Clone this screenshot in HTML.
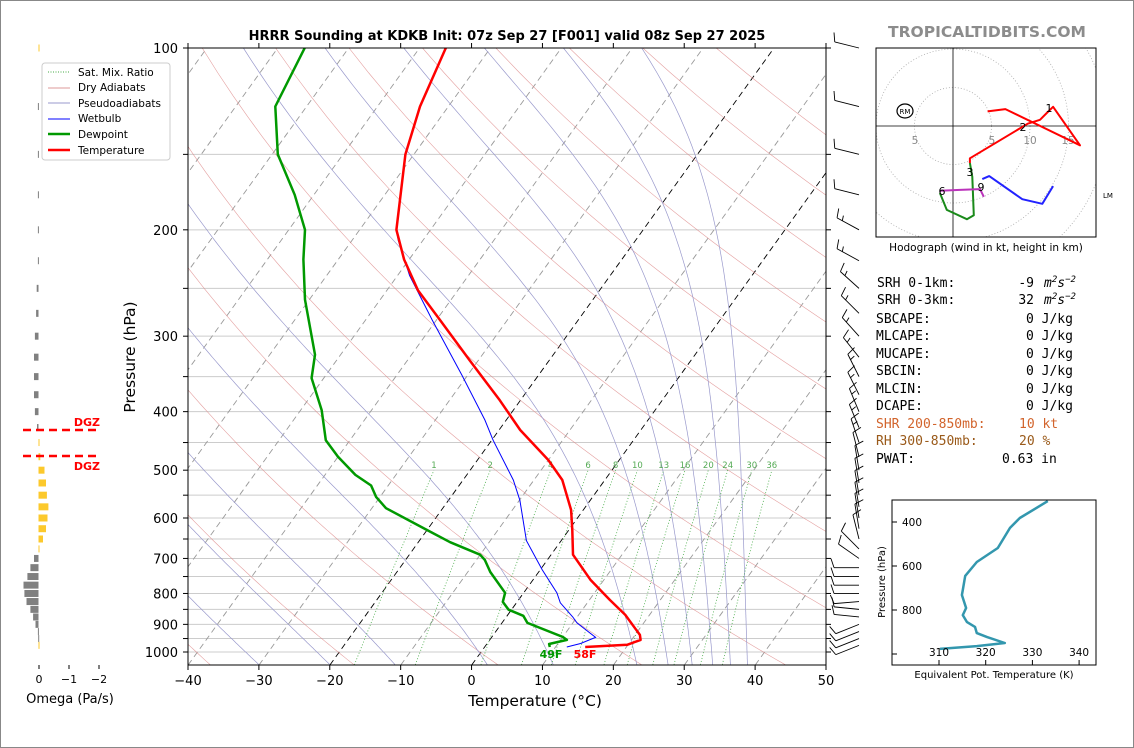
<!DOCTYPE html>
<html><head><meta charset="utf-8">
<style>
html,body{margin:0;padding:0;background:#fff;}
svg{display:block;font-family:"DejaVu Sans","Liberation Sans",sans-serif;}
.mono{font-family:"DejaVu Sans Mono","Liberation Mono",monospace;font-size:13px;}
</style></head>
<body>
<svg id="svg" width="1134" height="748" viewBox="0 0 1134 748" xmlns="http://www.w3.org/2000/svg">
<rect x="0.5" y="0.5" width="1133" height="747" fill="#fff" stroke="#888"/>
<defs>
<clipPath id="mainclip"><rect x="188" y="48" width="638" height="617"/></clipPath>
<clipPath id="hodoclip"><rect x="876" y="48" width="220" height="189"/></clipPath>
<clipPath id="teclip"><rect x="892" y="500" width="204" height="165"/></clipPath>
</defs>
<text x="507" y="40" text-anchor="middle" font-size="13" font-weight="bold">HRRR Sounding at KDKB Init: 07z Sep 27 [F001] valid 08z Sep 27 2025</text>
<text x="987" y="37" text-anchor="middle" font-size="15.5" font-weight="bold" fill="#8c8c8c">TROPICALTIDBITS.COM</text>
<g id="main-bg" clip-path="url(#mainclip)"></g>
<g id="main-data" clip-path="url(#mainclip)"></g>
<g id="main-axes"></g>
<g id="barbs"></g>
<g id="omega"></g>
<g id="hodo"></g>
<g id="te"></g>
<g>
<rect x="42" y="63" width="128" height="97" rx="3" fill="#fff" stroke="#ccc"/>
<line x1="48" y1="72" x2="70" y2="72" stroke="#4a4" stroke-dasharray="1,1.5"/>
<text x="78" y="76" font-size="10.5">Sat. Mix. Ratio</text>
<line x1="48" y1="88" x2="70" y2="88" stroke="#d99"/>
<text x="78" y="91" font-size="10.5">Dry Adiabats</text>
<line x1="48" y1="103" x2="70" y2="103" stroke="#99c"/>
<text x="78" y="107" font-size="10.5">Pseudoadiabats</text>
<line x1="48" y1="119" x2="70" y2="119" stroke="#00f"/>
<text x="78" y="122" font-size="10.5">Wetbulb</text>
<line x1="48" y1="134" x2="70" y2="134" stroke="#090" stroke-width="2.5"/>
<text x="78" y="138" font-size="10.5">Dewpoint</text>
<line x1="48" y1="150" x2="70" y2="150" stroke="#f00" stroke-width="2.5"/>
<text x="78" y="154" font-size="10.5">Temperature</text>
</g>
<g class="mono">
<text x="877" y="287">SRH 0-1km:</text><text x="1034" y="287" text-anchor="end">-9</text><text x="1044" y="287" font-style="italic">m<tspan dy="-5" font-size="9">2</tspan><tspan dy="5">s</tspan><tspan dy="-5" font-size="9">−2</tspan></text>
<text x="877" y="304">SRH 0-3km:</text><text x="1034" y="304" text-anchor="end">32</text><text x="1044" y="304" font-style="italic">m<tspan dy="-5" font-size="9">2</tspan><tspan dy="5">s</tspan><tspan dy="-5" font-size="9">−2</tspan></text>
<text x="876" y="323">SBCAPE:</text><text x="1026" y="323">0 J/kg</text>
<text x="876" y="340">MLCAPE:</text><text x="1026" y="340">0 J/kg</text>
<text x="876" y="358">MUCAPE:</text><text x="1026" y="358">0 J/kg</text>
<text x="876" y="375">SBCIN:</text><text x="1026" y="375">0 J/kg</text>
<text x="876" y="393">MLCIN:</text><text x="1026" y="393">0 J/kg</text>
<text x="876" y="410">DCAPE:</text><text x="1026" y="410">0 J/kg</text>
<text x="876" y="428" fill="#d2642c">SHR 200-850mb:</text><text x="1019" y="428" fill="#d2642c">10 kt</text>
<text x="876" y="445" fill="#9a5a1a">RH 300-850mb:</text><text x="1019" y="445" fill="#9a5a1a">20 %</text>
<text x="876" y="463">PWAT:</text><text x="1002" y="463">0.63 in</text>
</g>
</svg>
<script>
// ---------- data ----------
const tempP = [100,125,150,200,224,252,282,329,383,429,481,519,582,628,690,759,820,868,937,955,973,981];
const tempT = [-66.3,-64.0,-61.2,-54.8,-50.7,-45.6,-39.5,-31.2,-22.9,-17,-10,-6,-1.7,0.5,3.1,8.1,12.9,16.6,20.7,21.3,19.9,14.2];
const dewP = [100,125,150,175,200,224,261,322,352,398,446,475,509,530,554,578,628,658,690,704,737,798,826,851,871,895,944,955,970,981];
const dewT = [-86.2,-84.4,-79.2,-72.7,-67.7,-64.9,-60.6,-53.6,-51.7,-47,-43.4,-40,-35.7,-32.4,-30.5,-28,-20,-15.5,-10,-8.8,-6.8,-2.6,-2,-0.4,2.3,3.6,10,10.9,8.8,9.2];
const wbP = [100,125,150,200,208,238,282,348,413,446,519,561,654,731,798,829,875,895,946,968,981];
const wbT = [-66.3,-64.0,-61.2,-54.8,-53.5,-48.3,-40.6,-30.8,-23,-19.8,-12.9,-9.9,-4.9,0.3,4.7,6.2,9.4,10.6,14.7,13.2,11.6];
const mixRatios = [1,2,4,6,8,10,13,16,20,24,30,36];
const omegaP = [100,125,150,175,200,225,250,275,300,325,350,375,400,425,450,475,500,525,550,575,600,625,650,675,700,725,750,775,800,825,850,875,900,925,950,975];
const omegaV = [-0.01,0.02,0.02,0.02,0.02,0.02,0.06,0.08,0.12,0.15,0.15,0.15,0.12,0.05,-0.02,-0.06,-0.2,-0.25,-0.28,-0.33,-0.3,-0.25,-0.15,-0.03,0.15,0.27,0.37,0.5,0.47,0.4,0.27,0.18,0.1,0.02,0.01,-0.01];
const barbP = [100,125,150,175,200,225,250,275,300,325,350,375,400,425,450,475,500,525,550,575,600,625,650,675,700,725,750,775,800,825,850,875,900,925,950,975];
const barbU = [12,12,12,12,11,11,10,10,9,8,6,6,5,5,4,3,2,2,2,2,2,2,3,8,10,12,12,12,12,12,10,10,10,10,10,10];
const barbV = [-3,-3,-3,-3,-6,-6,-9,-10,-10,-10,-12,-12,-12,-12,-12,-12,-12,-12,-12,-12,-12,-12,-12,-8,-7,0,0,0,0,1,-1,-1,4,4,4,4];
const hodoRedU = [4.5,6.8,16.5,13,12.2,11.3,9.7,2.2,2.2];
const hodoRedV = [1.9,2.2,-2.5,2.5,1.7,0.8,0.3,-4.2,-4.8];
const hodoGreenU = [2.2,2.5,2.7,1.8,-0.8,-1.7];
const hodoGreenV = [-4.8,-6.6,-11.6,-12.1,-10.9,-8.7];
const hodoMagU = [-1.7,0.9,3.5,4.0];
const hodoMagV = [-8.4,-8.3,-8.2,-9.2];
const hodoBlueU = [3.8,4.7,9,11.6,13];
const hodoBlueV = [-6.9,-6.5,-9.5,-10.1,-7.8];
const thetaE = [333.3,327.3,325.2,322.6,318.1,315.6,315.1,314.9,315.8,315.1,316,317.7,318.1,320.3,324.1,318.1,310.2];
const thetaEP = [305,382,427,518,582,645,709,732,791,823,855,877,905,923,950,964,977];
const xTicks = [-40,-30,-20,-10,0,10,20,30,40,50];
const pTicks = [100,200,300,400,500,600,700,800,900,1000];
const moistStarts = [-30,-20,-10.8,2.2,11.5,23.3,27.7,31.1,34,36.5,38.9];

// ---------- helpers ----------
const NS='http://www.w3.org/2000/svg';
function mk(tag,parent,attrs){const e=document.createElementNS(NS,tag);for(const k in attrs)e.setAttribute(k,attrs[k]);parent.appendChild(e);return e;}
const yP = p => 48 + 604*Math.log10(p/100);
const xTP = (T,p) => 188 + (T+40)*7.0889 + 0.72*(665 - yP(p));
function pathFrom(Ts,Ps){return Ts.map((t,i)=>(i?'L':'M')+xTP(t,Ps[i]).toFixed(1)+','+yP(Ps[i]).toFixed(1)).join('');}

const bg=document.getElementById('main-bg');
for(let p=150;p<=1000;p+=50){
  const l=mk('line',bg,{x1:188,x2:826,y1:yP(p),y2:yP(p),stroke:'#ccc','stroke-width':1});
  
  
}
for(let T=-130;T<=50;T+=10){
  const l=mk('line',bg,{x1:xTP(T,1050),y1:665,x2:xTP(T,100),y2:48,stroke:(T===0||T===-20)?'#000':'#999','stroke-width':0.9,'stroke-dasharray':'6,4'});
  
  
}
for(let th=193;th<=473;th+=20){
  let d='';
  for(let p=1050;p>=100;p-=10){const T=th*Math.pow(p/1000,0.2857)-273.15;d+=(d?'L':'M')+xTP(T,p).toFixed(1)+','+yP(p).toFixed(1);}
  const l=mk('path',bg,{d:d,fill:'none',stroke:'#d88',"stroke-width":0.6,opacity:0.8});
  
  
}
function es(T){return 6.112*Math.exp(17.67*T/(T+243.5));}
for(const T0 of moistStarts){
  let T=T0+273.15,p=1050,d='M'+xTP(T0,1050).toFixed(1)+','+yP(1050).toFixed(1);
  while(p>100){
    const dp=-5;
    const e=es(T-273.15),rs=0.622*e/(p-e);
    const num=287*T+2.5e6*rs, den=1004+2.5e6*2.5e6*rs*0.622/(287*T*T);
    T+= num/den/p*dp; p+=dp;
    d+='L'+xTP(T-273.15,p).toFixed(1)+','+yP(p).toFixed(1);
  }
  const l=mk('path',bg,{d:d,fill:'none',stroke:'#99c',"stroke-width":0.7});
  
  
}
for(const w of mixRatios){
  let d='';
  for(let p=1050;p>=500;p-=10){const e=w*p/(622+w);const L=Math.log(e/6.112);const T=243.5*L/(17.67-L);d+=(d?'L':'M')+xTP(T,p).toFixed(1)+','+yP(p).toFixed(1);}
  const l=mk('path',bg,{d:d,fill:'none',stroke:'#4a4',"stroke-width":0.8,'stroke-dasharray':'1,2'});
  
  
  const e=w*500/(622+w),L=Math.log(e/6.112),T=243.5*L/(17.67-L);
  const t=mk('text',bg,{x:xTP(T,500),y:468,'font-size':8.5,fill:'#5a5','text-anchor':'middle'});
  t.textContent=w;
  
  
}
const md=document.getElementById('main-data');
let pe=mk('path',md,{d:pathFrom(wbT,wbP),fill:'none',stroke:'#00f','stroke-width':1});


pe=mk('path',md,{d:pathFrom(dewT,dewP),fill:'none',stroke:'#090','stroke-width':2.5,'stroke-linejoin':'round'});


pe=mk('path',md,{d:pathFrom(tempT,tempP),fill:'none',stroke:'#f00','stroke-width':2.5,'stroke-linejoin':'round'});


let tx=mk('text',md,{x:551,y:658,'font-size':11,'font-weight':'bold',fill:'#090','text-anchor':'middle'});
tx.textContent='49F';


tx=mk('text',md,{x:585,y:658,'font-size':11,'font-weight':'bold',fill:'#f00','text-anchor':'middle'});
tx.textContent='58F';



const ax=document.getElementById('main-axes');
let r=mk('rect',ax,{x:188,y:48,width:638,height:617,fill:'none',stroke:'#000','stroke-width':1});


for(const T of xTicks){
  const x=188+(T+40)*7.0889;
  mk('line',ax,{x1:x,x2:x,y1:665,y2:670,stroke:'#000'});
  mk('line',ax,{x1:x,x2:x,y1:48,y2:43,stroke:'#000'});
  const t=mk('text',ax,{x:x,y:685,'font-size':13,'text-anchor':'middle'});
  t.textContent=(T<0?'−'+(-T):T);
  
  
}
for(let p=100;p<=1000;p+=50){
  mk('line',ax,{x1:183,x2:188,y1:yP(p),y2:yP(p),stroke:'#000'});
  mk('line',ax,{x1:826,x2:831,y1:yP(p),y2:yP(p),stroke:'#000'});
}
for(const p of pTicks){
  const t=mk('text',ax,{x:178,y:yP(p)+5,'font-size':13,'text-anchor':'end'});
  t.textContent=p;
  
  
}
tx=mk('text',ax,{x:535,y:706,'font-size':15.5,'text-anchor':'middle'});
tx.textContent='Temperature (°C)';


tx=mk('text',ax,{x:0,y:0,'font-size':15.5,'text-anchor':'middle',transform:'translate(135,357) rotate(-90)'});
tx.textContent='Pressure (hPa)';



// wind barbs
const bb=document.getElementById('barbs');
barbP.forEach((p,i)=>{
  const u=barbU[i],v=barbV[i],s=Math.hypot(u,v)||1;
  const bx=859,by=yP(p),L=25;
  const dx=-u/s,dy=v/s;
  const ex=bx+dx*L,ey=by+dy*L;
  const g=mk('g',bb,{});
  
  
  mk('line',g,{x1:bx,y1:by,x2:ex,y2:ey,stroke:'#000','stroke-width':0.9});
  let spd=Math.round(s/5)*5, k=0;
  const px=-dy,py=dx;
  while(spd>=10){const sx=ex-dx*k*4,sy=ey-dy*k*4;mk('line',g,{x1:sx,y1:sy,x2:sx+px*9+dx*3,y2:sy+py*9+dy*3,stroke:'#000','stroke-width':0.9});spd-=10;k++;}
  if(spd>=5){const sx=ex-dx*(k+0.5)*4,sy=ey-dy*(k+0.5)*4;mk('line',g,{x1:sx,y1:sy,x2:sx+px*5+dx*1.5,y2:sy+py*5+dy*1.5,stroke:'#000','stroke-width':0.9});}
});

// omega
const om=document.getElementById('omega');
omegaP.forEach((p,i)=>{
  const v=omegaV[i];const x0=38.5,w=Math.abs(v)*30;
  const rr=mk('rect',om,{x:v>0?x0-w:x0,y:yP(p)-3.5,width:Math.max(w,1),height:7,fill:v>0?'#808080':'#fcc92c'});
  
  
});
[['0',39],['−1',69],['−2',99]].forEach(([l,x])=>{
  mk('line',om,{x1:x,x2:x,y1:665,y2:669,stroke:'#000'});
  const t=mk('text',om,{x:x,y:683,'font-size':11,'text-anchor':'middle'});t.textContent=l;
  
  
});
tx=mk('text',om,{x:70,y:703,'font-size':13,'text-anchor':'middle'});tx.textContent='Omega (Pa/s)';


[430,456].forEach((y,i)=>{
  const l=mk('line',om,{x1:23,x2:99,y1:y,y2:y,stroke:'#f00','stroke-width':2.5,'stroke-dasharray':'8,5'});
  
  
  const t=mk('text',om,{x:100,y:i?470:426,'font-size':11,'font-weight':'bold',fill:'#f00','text-anchor':'end'});t.textContent='DGZ';
  
  
});

// hodograph
const ho=document.getElementById('hodo');
const hx=953,hy=126,hs=7.7;
const hc=mk('g',ho,{'clip-path':'url(#hodoclip)'});
[5,10,15,20,25].forEach(k=>{mk('circle',hc,{cx:hx,cy:hy,r:k*hs,fill:'none',stroke:'#aaa','stroke-width':0.8,'stroke-dasharray':'1,2'});});
mk('line',hc,{x1:876,x2:1096,y1:hy,y2:hy,stroke:'#000','stroke-width':0.8});
mk('line',hc,{x1:hx,x2:hx,y1:48,y2:237,stroke:'#000','stroke-width':0.8});
[['5',915],['5',992],['10',1030],['15',1068]].forEach(([l,x])=>{const t=mk('text',hc,{x:x,y:144,'font-size':10.5,fill:'#888','text-anchor':'middle'});t.textContent=l;
  
  });
function hodoPath(U,V,col,name){const d=U.map((u,i)=>(i?'L':'M')+(hx+u*hs).toFixed(1)+','+(hy-V[i]*hs).toFixed(1)).join('');const e=mk('path',hc,{d:d,fill:'none',stroke:col,'stroke-width':2,'stroke-linejoin':'round'});
  
  }
hodoPath(hodoRedU,hodoRedV,'#f00','hodo-0-3km');
hodoPath(hodoGreenU,hodoGreenV,'#1a8a1a','hodo-3-6km');
hodoPath(hodoBlueU,hodoBlueV,'#22f','hodo-9km-plus');
hodoPath(hodoMagU,hodoMagV,'#b3b','hodo-6-9km');
[['1',1049,112],['2',1023,131],['3',970,176],['6',942,195],['9',981,191]].forEach(([l,x,y])=>{const t=mk('text',hc,{x:x,y:y,'font-size':11,'text-anchor':'middle'});t.textContent=l;
  
  });
mk('ellipse',ho,{cx:905,cy:111,rx:8,ry:7,fill:'none',stroke:'#000','stroke-width':1.2});
tx=mk('text',ho,{x:905,y:114,'font-size':7,'text-anchor':'middle'});tx.textContent='RM';


tx=mk('text',ho,{x:1103,y:198,'font-size':7});tx.textContent='LM';


r=mk('rect',ho,{x:876,y:48,width:220,height:189,fill:'none',stroke:'#000'});


tx=mk('text',ho,{x:986,y:251,'font-size':10.5,'text-anchor':'middle'});tx.textContent='Hodograph (wind in kt, height in km)';



// theta-e
const te=document.getElementById('te');
const teX=t=>939+(t-310)*4.67, teY=p=>522+(p-400)*0.22;
const tc=mk('g',te,{'clip-path':'url(#teclip)'});
const ted=thetaE.map((t,i)=>(i?'L':'M')+teX(t).toFixed(1)+','+teY(thetaEP[i]).toFixed(1)).join('');
pe=mk('path',tc,{d:ted,fill:'none',stroke:'#3397ae','stroke-width':2.5,'stroke-linejoin':'round'});


r=mk('rect',te,{x:892,y:500,width:204,height:165,fill:'none',stroke:'#000'});


[400,600,800,1000].forEach(p=>{mk('line',te,{x1:892,x2:897,y1:teY(p),y2:teY(p),stroke:'#000'});
  if(p<1000){const t=mk('text',te,{x:922,y:teY(p)+4,'font-size':10.5,'text-anchor':'end'});t.textContent=p;
  
  }});
[310,320,330,340].forEach(v=>{mk('line',te,{x1:teX(v),x2:teX(v),y1:665,y2:660,stroke:'#000'});
  const t=mk('text',te,{x:teX(v),y:656,'font-size':10.5,'text-anchor':'middle'});t.textContent=v;
  
  });
tx=mk('text',te,{x:994,y:678,'font-size':10,'text-anchor':'middle'});tx.textContent='Equivalent Pot. Temperature (K)';


tx=mk('text',te,{x:0,y:0,'font-size':10,'text-anchor':'middle',transform:'translate(885,582) rotate(-90)'});tx.textContent='Pressure (hPa)';


</script>
</body></html>
